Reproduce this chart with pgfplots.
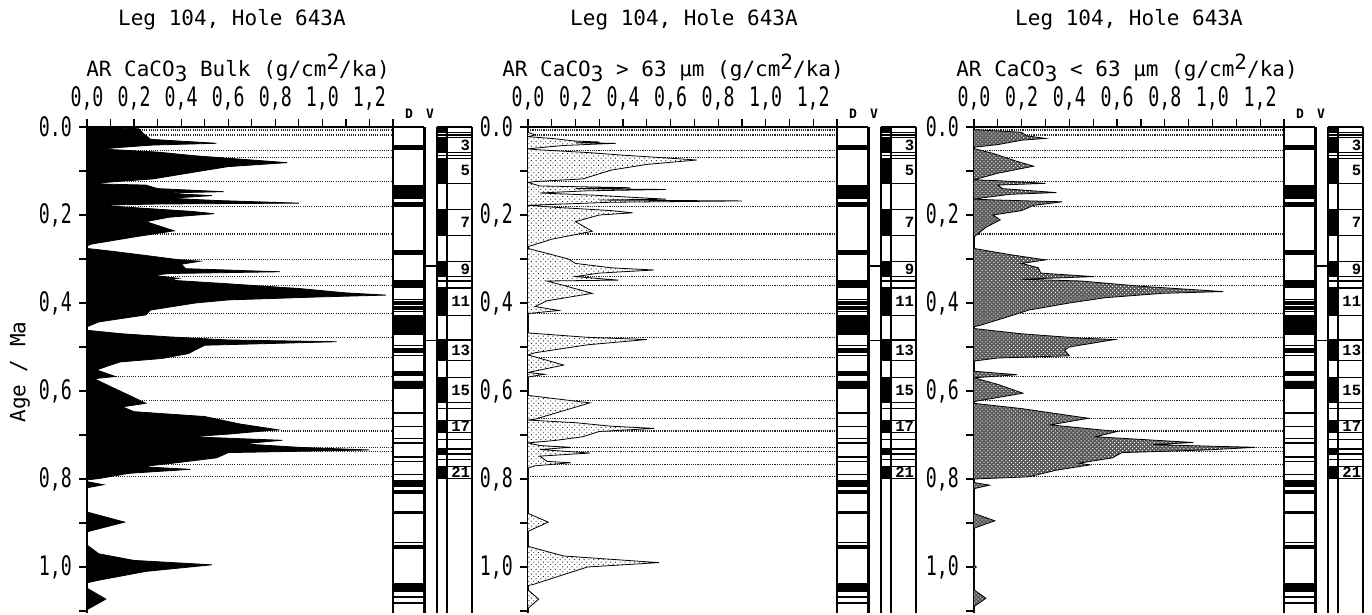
\documentclass[border=0pt]{standalone}
\usepackage{pgfplots}
\pgfplotsset{compat=1.18}
\usepackage{pgfplotstable}
\usepackage{fontspec}
\usetikzlibrary{patterns,patterns.meta}
\newfontfamily\plotfont{DejaVu Sans Mono}
\newfontfamily\numfont{Liberation Mono}
\newcommand{\tlab}[1]{\scalebox{0.95}[1.4]{#1}}

% panel 1: AR CaCO3 bulk  (x = value, y = age)
\pgfplotstableread{
x y
0 0
0.22 0.004
0.24 0.015
0.27 0.028
0.55 0.037
0.28 0.041
0.15 0.046
0.06 0.050
0.30 0.057
0.45 0.065
0.65 0.073
0.85 0.081
0.60 0.090
0.45 0.103
0.28 0.118
0.10 0.125
0.02 0.129
0.25 0.132
0.30 0.140
0.58 0.147
0.32 0.150
0.53 0.156
0.35 0.162
0.55 0.167
0.90 0.173
0.30 0.175
0.05 0.178
0.25 0.185
0.45 0.192
0.54 0.197
0.35 0.205
0.25 0.215
0.37 0.236
0.20 0.250
0.02 0.266
0 0.270
0 0.276
0.10 0.282
0.25 0.292
0.38 0.301
0.48 0.305
0.40 0.312
0.42 0.322
0.82 0.329
0.35 0.333
0.28 0.337
0.39 0.344
0.35 0.348
0.56 0.355
0.90 0.367
1.10 0.377
1.27 0.382
1.00 0.386
0.60 0.393
0.46 0.400
0.27 0.416
0.25 0.427
0.05 0.443
0 0.454
0 0.462
0.15 0.470
0.35 0.477
0.60 0.484
1.06 0.488
0.50 0.496
0.43 0.515
0.32 0.526
0.14 0.534
0.04 0.552
0.12 0.567
0.03 0.572
0.10 0.590
0.18 0.610
0.25 0.628
0.15 0.636
0.20 0.647
0.50 0.658
0.65 0.675
0.81 0.688
0.60 0.698
0.44 0.704
0.83 0.712
0.66 0.720
0.90 0.728
1.20 0.734
0.60 0.740
0.55 0.752
0.35 0.765
0.23 0.772
0.44 0.778
0.18 0.787
0.05 0.799
0 0.802
0 0.806
0.07 0.813
0 0.820
0 0.875
0.16 0.898
0 0.920
0 0.950
0.05 0.970
0.20 0.985
0.53 0.995
0.25 1.010
0.05 1.030
0 1.036
0 1.048
0.08 1.073
0 1.097
0 1.105
}\dataA

% panel 2: AR CaCO3 > 63 um
\pgfplotstableread{
x y
0 0
0 0.012
0.03 0.018
0 0.022
0.10 0.026
0.20 0.032
0.30 0.034
0.20 0.036
0.37 0.037
0.15 0.042
0.03 0.048
0 0.050
0.05 0.052
0.25 0.058
0.40 0.064
0.60 0.071
0.71 0.075
0.50 0.085
0.35 0.098
0.23 0.118
0.03 0.124
0 0.126
0.05 0.134
0.43 0.138
0.20 0.140
0.58 0.142
0.25 0.145
0.05 0.150
0.28 0.155
0.58 0.164
0.30 0.166
0.90 0.168
0.35 0.171
0.10 0.176
0 0.178
0.10 0.182
0.35 0.190
0.44 0.195
0.30 0.200
0.20 0.215
0.27 0.237
0.10 0.255
0 0.272
0 0.276
0.10 0.290
0.17 0.300
0.20 0.310
0.35 0.320
0.53 0.325
0.30 0.332
0.20 0.340
0.38 0.348
0.08 0.350
0.15 0.360
0.27 0.378
0.08 0.395
0.03 0.408
0.13 0.417
0 0.424
0 0.468
0.25 0.478
0.50 0.483
0.25 0.495
0.03 0.513
0 0.518
0.15 0.541
0 0.558
0.07 0.562
0 0.568
0 0.610
0.26 0.627
0.03 0.664
0 0.666
0.20 0.672
0.35 0.680
0.53 0.685
0.30 0.692
0.23 0.704
0.12 0.712
0 0.718
0.05 0.724
0.18 0.728
0.05 0.733
0.26 0.741
0.05 0.748
0.08 0.760
0.18 0.763
0.03 0.770
0 0.775
0 0.878
0.085 0.898
0 0.919
0 0.953
0.15 0.975
0.55 0.990
0.25 1.000
0.02 1.040
0 1.042
0 1.052
0.045 1.073
0 1.094
0 1.105
}\dataB

% panel 3: AR CaCO3 < 63 um
\pgfplotstableread{
x y
0 0
0 0.006
0.20 0.012
0.22 0.020
0.30 0.026
0.20 0.030
0.10 0.040
0 0.046
0 0.049
0.08 0.060
0.18 0.078
0.25 0.089
0.10 0.105
0.02 0.117
0 0.120
0.10 0.122
0.30 0.128
0.10 0.132
0.12 0.140
0.345 0.149
0.15 0.153
0.05 0.160
0 0.164
0.10 0.166
0.37 0.170
0.25 0.178
0.20 0.190
0.08 0.200
0.11 0.211
0.05 0.228
0 0.250
0 0.276
0.15 0.290
0.30 0.302
0.20 0.310
0.27 0.320
0.28 0.332
0.50 0.340
0.20 0.346
0.45 0.350
0.70 0.362
1.045 0.374
0.79 0.378
0.55 0.388
0.40 0.400
0.23 0.416
0.15 0.430
0.03 0.450
0 0.454
0 0.458
0.20 0.470
0.45 0.480
0.59 0.483
0.40 0.500
0.38 0.507
0.40 0.520
0.10 0.525
0 0.532
0 0.555
0.18 0.563
0 0.570
0.10 0.585
0.205 0.605
0 0.624
0 0.628
0.20 0.640
0.48 0.662
0.32 0.677
0.60 0.692
0.51 0.704
0.92 0.717
0.75 0.722
1.18 0.728
0.975 0.734
0.62 0.740
0.58 0.752
0.44 0.764
0.485 0.768
0.345 0.780
0.23 0.795
0 0.800
0 0.808
0.065 0.814
0 0.822
0 0.878
0.087 0.895
0 0.912
0 0.996
0.01 1.000
0 1.004
0 1.052
0.05 1.071
0 1.090
0 1.105
}\dataC

\pgfplotsset{
  mainax/.style={
    scale only axis, height=243.1pt, anchor=north west,
    xmin=0, xmax=1.3, ymin=0, ymax=1.105, y dir=reverse,
    axis x line*=top, axis y line*=left,
    axis line style={-, line width=0.9pt},
    xtick={0,0.2,0.4,0.6,0.8,1.0,1.2},
    minor xtick={0.1,0.3,0.5,0.7,0.9,1.1,1.3},
    xticklabels={{\tlab{0,0}},{\tlab{0,2}},{\tlab{0,4}},{\tlab{0,6}},{\tlab{0,8}},{\tlab{1,0}},{\tlab{1,2}}},
    ytick={0,0.2,0.4,0.6,0.8,1.0},
    minor ytick={0.1,0.3,0.5,0.7,0.9,1.1},
    yticklabels={{\tlab{0.0}},{\tlab{0,2}},{\tlab{0,4}},{\tlab{0,6}},{\tlab{0,8}},{\tlab{1,0}}},
    tick align=outside, major tick length=4pt, minor tick length=4pt,
    every tick/.style={line width=0.6pt, black},
    ticklabel style={font=\plotfont\fontsize{9.6}{10}\selectfont},
    xticklabel style={yshift=1pt},
    clip=true,
  },
  colax/.style={
    scale only axis, height=243.1pt, width=39.5pt, anchor=north west,
    xmin=0, xmax=79, ymin=0, ymax=1.105, y dir=reverse,
    hide axis, clip=false,
  },
}

\newcommand{\dotlines}{%
  \pgfplotsinvokeforeach{0.007,0.018,0.054,0.069,0.124,0.181,0.243,0.302,0.339,0.361,0.424,0.479,0.524,0.567,0.622,0.662,0.691,0.728,0.738,0.767,0.795}{%
    \addplot[black!85, line width=0.6pt, dash pattern=on 0.55pt off 0.55pt] coordinates {(0,##1) (1.3,##1)};}}

\newcommand{\dband}[2]{\addplot[fill=black, draw=black, line width=0.3pt] coordinates {(0,#1) (31,#1) (31,#2) (0,#2) (0,#1)};}
\newcommand{\dline}[1]{\addplot[black, line width=0.6pt] coordinates {(0,#1) (31,#1)};}
\newcommand{\sband}[2]{\addplot[fill=black, draw=black, line width=0.3pt] coordinates {(44,#1) (54,#1) (54,#2) (44,#2) (44,#1)};
  \addplot[black, line width=0.6pt] coordinates {(44,#1) (79,#1)};
  \addplot[black, line width=0.6pt] coordinates {(44,#2) (79,#2)};}
\newcommand{\sline}[1]{\addplot[black, line width=0.6pt] coordinates {(44,#1) (79,#1)};}
\newcommand{\vvline}[1]{\addplot[black, line width=0.6pt] coordinates {(32.5,#1) (44,#1)};}
\newcommand{\vcol}[1]{\addplot[black, line width=0.7pt] coordinates {(#1,0) (#1,1.105)};}

\newcommand{\columncontent}{%
  \vcol{0}\vcol{31}\vcol{32.5}\vcol{44}\vcol{54}\vcol{79}
  \addplot[black, line width=0.7pt] coordinates {(0,0) (31,0)};
  \addplot[black, line width=0.7pt] coordinates {(44,0) (79,0)};
  % D column
  \dband{0.041}{0.051}\dband{0.132}{0.161}\dband{0.171}{0.181}
  \dband{0.280}{0.289}\dband{0.353}{0.365}\dband{0.396}{0.401}
  \dband{0.408}{0.415}\dband{0.428}{0.471}\dband{0.503}{0.513}
  \dband{0.556}{0.564}\dband{0.577}{0.593}\dband{0.804}{0.816}
  \dband{0.825}{0.832}\dband{0.873}{0.879}\dband{0.951}{0.958}
  \dband{1.038}{1.056}
  \dline{0.350}\dline{0.392}\dline{0.404}\dline{0.420}\dline{0.497}\dline{0.520}
  \dline{0.650}\dline{0.680}\dline{0.708}\dline{0.718}\dline{0.750}\dline{0.760}
  \dline{0.790}\dline{0.944}\dline{1.068}\dline{1.082}
  % V column
  \vvline{0.316}\vvline{0.485}
  % stage column
  \sband{0.002}{0.012}\sband{0.023}{0.058}\sband{0.071}{0.128}
  \sband{0.188}{0.247}\sband{0.305}{0.340}\sband{0.366}{0.428}
  \sband{0.484}{0.530}\sband{0.570}{0.626}\sband{0.667}{0.694}
  \sband{0.732}{0.743}\sband{0.771}{0.798}
  \sline{0.018}\sline{0.065}\sline{0.350}\sline{0.640}\sline{0.710}\sline{0.755}
  \foreach \n/\a in {3/0.041,5/0.099,7/0.217,9/0.323,11/0.397,13/0.507,15/0.598,17/0.681,21/0.785}{%
    \edef\tmp{\noexpand\node[anchor=east, font=\noexpand\numfont\noexpand\bfseries\noexpand\fontsize{7.8}{8}\noexpand\selectfont, inner sep=0pt] at (axis cs:77.5,\a) {\n};}\tmp}
  \node[font=\plotfont\bfseries\fontsize{6.5}{7}\selectfont] at (axis cs:16,-0.03) {D};
  \node[font=\plotfont\bfseries\fontsize{6.5}{7}\selectfont] at (axis cs:37,-0.03) {V};
}

\begin{document}
\begin{tikzpicture}
\path[use as bounding box] (0pt,0pt) rectangle (686pt,-307.5pt);

% ---------- panel 1 ----------
\begin{axis}[mainax, at={(43.5pt,-63.5pt)}, width=153pt]
  \dotlines
  \addplot[fill=black, draw=black, line width=0.4pt] table[x=x, y=y] {\dataA};
\end{axis}
\begin{axis}[colax, at={(196.5pt,-63.5pt)}]
  \columncontent
\end{axis}

% ---------- panel 2 ----------
\begin{axis}[mainax, at={(264pt,-63.5pt)}, width=154.5pt]
  \dotlines
  \addplot[fill=white, draw=none] table[x=x, y=y] {\dataB};
  \addplot[pattern={Dots[distance=1.7pt, radius=0.33pt, angle=45]}, pattern color=black!85, draw=black, line width=0.4pt] table[x=x, y=y] {\dataB};
\end{axis}
\begin{axis}[colax, at={(418.5pt,-63.5pt)}]
  \columncontent
\end{axis}

% ---------- panel 3 ----------
\begin{axis}[mainax, at={(487pt,-63.5pt)}, width=155pt]
  \dotlines
  \addplot[fill=black!65, draw=none] table[x=x, y=y] {\dataC};
  \addplot[pattern={Dots[distance=1.4pt, radius=0.35pt, angle=45]}, pattern color=white, draw=black, line width=0.4pt] table[x=x, y=y] {\dataC};
\end{axis}
\begin{axis}[colax, at={(642pt,-63.5pt)}]
  \columncontent
\end{axis}

% ---------- titles ----------
\begin{scope}[every node/.style={font=\plotfont\fontsize{10.5}{12}\selectfont, inner sep=0pt}]
  \node at (116pt,-10pt) {Leg 104, Hole 643A};
  \node at (342pt,-10pt) {Leg 104, Hole 643A};
  \node at (564.5pt,-10pt) {Leg 104, Hole 643A};
  \node at (119pt,-34pt) {AR CaCO\raisebox{-0.45ex}{3} Bulk (g/cm\raisebox{0.65ex}{2}/ka)};
  \node at (336.5pt,-34pt) {AR CaCO\raisebox{-0.45ex}{3} > 63 µm (g/cm\raisebox{0.65ex}{2}/ka)};
  \node at (563.5pt,-34pt) {AR CaCO\raisebox{-0.45ex}{3} < 63 µm (g/cm\raisebox{0.65ex}{2}/ka)};
  \node[rotate=90] at (10pt,-186pt) {Age / Ma};
\end{scope}
\end{tikzpicture}
\end{document}
